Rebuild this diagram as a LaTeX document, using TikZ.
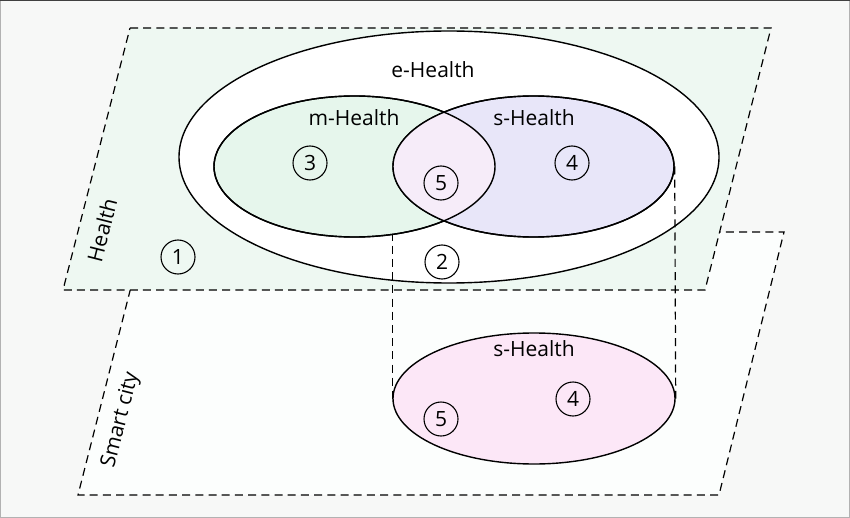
\documentclass[tikz,border=0pt]{standalone}
\usepackage{fontspec}
\setmainfont{Open Sans}
\usetikzlibrary{shapes.geometric}

\definecolor{bgcol}{RGB}{247,248,247}
\definecolor{healthcol}{RGB}{238,248,242}
\definecolor{citycol}{RGB}{252,254,253}
\definecolor{mcol}{RGB}{230,246,236}
\definecolor{scol}{RGB}{232,230,249}
\definecolor{bothcol}{RGB}{246,236,249}
\definecolor{slowcol}{RGB}{252,231,247}

\pgfdeclarelayer{back}
\pgfdeclarelayer{mid}
\pgfsetlayers{back,mid,main}

\tikzset{
    set/.style={ellipse, draw, line width=0.7pt, inner sep=0pt},
    plane/.style={dashed, dash pattern=on 4pt off 2.6pt, line width=0.6pt},
    num/.style={circle, draw, line width=0.55pt, inner sep=0pt, minimum size=17pt,
        font=\fontsize{10.5}{12}\selectfont},
    lbl/.style={font=\fontsize{10.5}{12}\selectfont}
}

\begin{document}
\begin{tikzpicture}[x=0.5pt, y=-0.5pt]
        \useasboundingbox (0,0) rectangle (850,518);

        \begin{pgfonlayer}{back}
        \filldraw[fill=bgcol, draw=gray!60, line width=1pt] (0,0) rectangle (850,518);
        \draw[black!75, line width=1pt] (0,0.5) -- (850,0.5);

        % draw the two planes
        \filldraw[plane, fill=citycol] (145,232) -- (784,232) -- (719,495) -- (78,495) -- cycle;
        \filldraw[plane, fill=healthcol] (130,28) -- (771,28) -- (705,290) -- (63,290) -- cycle;

        % the big set
        \node[set, fill=white, minimum width=270pt, minimum height=126pt] (eh) at (449,157) {};
        \end{pgfonlayer}

        % draw the sets
        \node[set, fill=mcol, minimum width=140.5pt, minimum height=70.5pt] (mh) at (354.5,166.5) {};
        \node[set, fill=scol, minimum width=140.5pt, minimum height=70.5pt] (sh) at (533.5,166.5) {};
        \begin{scope}
            \clip (mh.center) ellipse [x radius=70.25pt, y radius=35.25pt];
            \fill[bothcol] (sh.center) ellipse [x radius=70.25pt, y radius=35.25pt];
        \end{scope}
        \draw[line width=0.7pt] (mh.center) ellipse [x radius=70.25pt, y radius=35.25pt];
        \draw[line width=0.7pt] (sh.center) ellipse [x radius=70.25pt, y radius=35.25pt];
        \node[set, fill=slowcol, minimum width=141pt, minimum height=65.5pt] (sl) at (534,398.5) {};

        % the texts
        \node[lbl] (leh) at (433,70) {e-Health};
        \node[lbl] (lmh) at (354,118) {m-Health};
        \node[lbl] (lsh) at (534,118) {s-Health};
        \node[lbl] (lsl) at (534,349) {s-Health};
        \node[lbl, rotate=75.7] (lhealth) at (102,230) {Health};
        \node[lbl, rotate=75.7] (lcity) at (121,420) {Smart city};

        % the numbered regions
        \node[num] (n1) at (178,257) {1};
        \node[num] (n2) at (442,262) {2};
        \node[num] (n3) at (310,163) {3};
        \node[num] (n4) at (572,163) {4};
        \node[num] (n5) at (441,183) {5};
        \node[num] (n4b) at (573,399) {4};
        \node[num] (n5b) at (441,419) {5};

        % the projection lines
        \begin{pgfonlayer}{mid}
        \draw[plane] (sh.west) -- (sl.west);
        \draw[plane] (sh.east) -- (sl.east);
        \end{pgfonlayer}

    \end{tikzpicture}
\end{document}
